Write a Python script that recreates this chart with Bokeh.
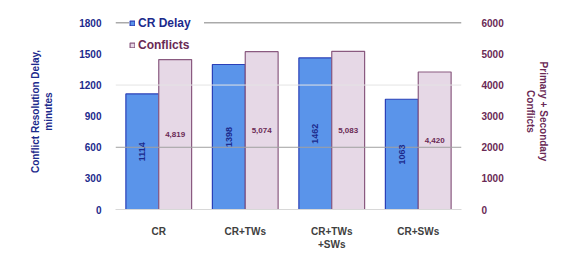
from bokeh.plotting import figure
from bokeh.models import (ColumnDataSource, Range1d, LinearAxis, FixedTicker, LabelSet,
                          Legend, LegendItem, Span, FactorRange)
from bokeh.core.properties import value
from bokeh.transform import dodge
from bokeh.embed import file_html
from bokeh.resources import INLINE

categories = ["CR", "CR+TWs", "CR+TWs\n+SWs", "CR+SWs"]
cr_delay = [1114, 1398, 1462, 1063]
conflicts = [4819, 5074, 5083, 4420]
left_ticks = [0, 300, 600, 900, 1200, 1500, 1800]
right_ticks = [0, 1000, 2000, 3000, 4000, 5000, 6000]

src = ColumnDataSource(dict(
    cat=categories,
    delay=cr_delay,
    conf=conflicts,
    delay_mid=[v / 2 for v in cr_delay],
    conf_mid=[v / 2 for v in conflicts],
    delay_txt=[str(v) for v in cr_delay],
    conf_txt=[f"{v:,}" for v in conflicts],
))

FONT = "Liberation Sans"
BLUE_TXT = "#1c2a8c"
MAROON = "#6a2a55"
BLUE_FILL = "#5a94ea"

# ranges slightly taller than the top tick so the legend can sit on the top grid line
p = figure(width=551, height=252, output_backend="svg", toolbar_location=None,
           x_range=FactorRange(*categories, range_padding=0),
           y_range=Range1d(0, 1890),
           min_border_left=115, min_border_right=80, min_border_top=13, min_border_bottom=42)
p.extra_y_ranges = {"right": Range1d(0, 6300)}
p.outline_line_color = None
p.xgrid.grid_line_color = None
p.ygrid.grid_line_color = None
p.background_fill_color = "white"

for val, col in [(1200, "#e4e4e4"), (600, "#a0a0a0"), (1800, "#808080")]:
    p.add_layout(Span(location=val, dimension="width", line_color=col, line_width=1))

blue_r = p.vbar(x=dodge("cat", -0.19, range=p.x_range), top="delay", width=0.38, source=src,
                fill_color=BLUE_FILL, line_color="#2a40b8", line_width=1.2)
pink_r = p.vbar(x=dodge("cat", 0.19, range=p.x_range), top="conf", width=0.38, source=src,
                y_range_name="right", fill_color="#e6d8e6", line_color="#8a5a80", line_width=1.2)

p.add_layout(LabelSet(x=dodge("cat", -0.19, range=p.x_range), y="delay_mid", text="delay_txt",
                      source=src, angle=1.5708, text_align="center", text_baseline="middle",
                      text_font=value(FONT), text_font_size="9px", text_font_style="bold",
                      text_color=BLUE_TXT))
p.add_layout(LabelSet(x=dodge("cat", 0.19, range=p.x_range), y="conf_mid", text="conf_txt",
                      source=src, y_range_name="right", text_align="center", text_baseline="middle",
                      text_font=value(FONT), text_font_size="8px", text_font_style="bold",
                      text_color=MAROON))

ya = p.yaxis[0]
ya.ticker = FixedTicker(ticks=left_ticks)
ya.axis_line_color = None
ya.major_tick_line_color = None
ya.minor_tick_line_color = None
ya.major_label_standoff = 8
ya.major_label_text_font = FONT
ya.major_label_text_font_size = "10px"
ya.major_label_text_font_style = "bold"
ya.major_label_text_color = BLUE_TXT
ya.axis_label = "Conflict Resolution Delay,\nminutes"
ya.axis_label_text_font = FONT
ya.axis_label_text_font_size = "10px"
ya.axis_label_text_font_style = "bold"
ya.axis_label_text_color = BLUE_TXT
ya.axis_label_standoff = 22

ra = LinearAxis(y_range_name="right", ticker=FixedTicker(ticks=right_ticks))
ra.axis_line_color = None
ra.major_tick_line_color = None
ra.minor_tick_line_color = None
ra.major_label_standoff = 14
ra.major_label_text_font = FONT
ra.major_label_text_font_size = "10px"
ra.major_label_text_font_style = "bold"
ra.major_label_text_color = MAROON
ra.axis_label = "Primary + Secondary\nConflicts"
ra.axis_label_text_font = FONT
ra.axis_label_text_font_size = "10px"
ra.axis_label_text_font_style = "bold"
ra.axis_label_text_color = MAROON
ra.axis_label_standoff = 18
p.add_layout(ra, "right")

xa = p.xaxis[0]
xa.axis_line_color = "#d8d8d8"
xa.major_tick_line_color = None
xa.minor_tick_line_color = None
xa.major_label_standoff = 10
xa.major_label_text_font = FONT
xa.major_label_text_font_size = "10px"
xa.major_label_text_font_style = "bold"
xa.major_label_text_color = "#404040"

lg1 = Legend(items=[LegendItem(label="CR Delay", renderers=[blue_r])],
             location=(14, 179), padding=2, margin=0, spacing=0,
             glyph_width=6, glyph_height=6, label_height=14, label_width=66, label_standoff=3,
             label_text_font=FONT, label_text_font_size="12px", label_text_font_style="bold",
             label_text_color=BLUE_TXT, border_line_color=None, background_fill_color="white",
             background_fill_alpha=1.0)
lg2 = Legend(items=[LegendItem(label="Conflicts", renderers=[pink_r])],
             location=(14, 157), padding=2, margin=0, spacing=0,
             glyph_width=6, glyph_height=6, label_height=14, label_standoff=3,
             label_text_font=FONT, label_text_font_size="12px", label_text_font_style="bold",
             label_text_color=MAROON, border_line_color=None, background_fill_alpha=0.0)
p.add_layout(lg1, "center")
p.add_layout(lg2, "center")

open("out.html", "w").write(file_html(p, INLINE))
